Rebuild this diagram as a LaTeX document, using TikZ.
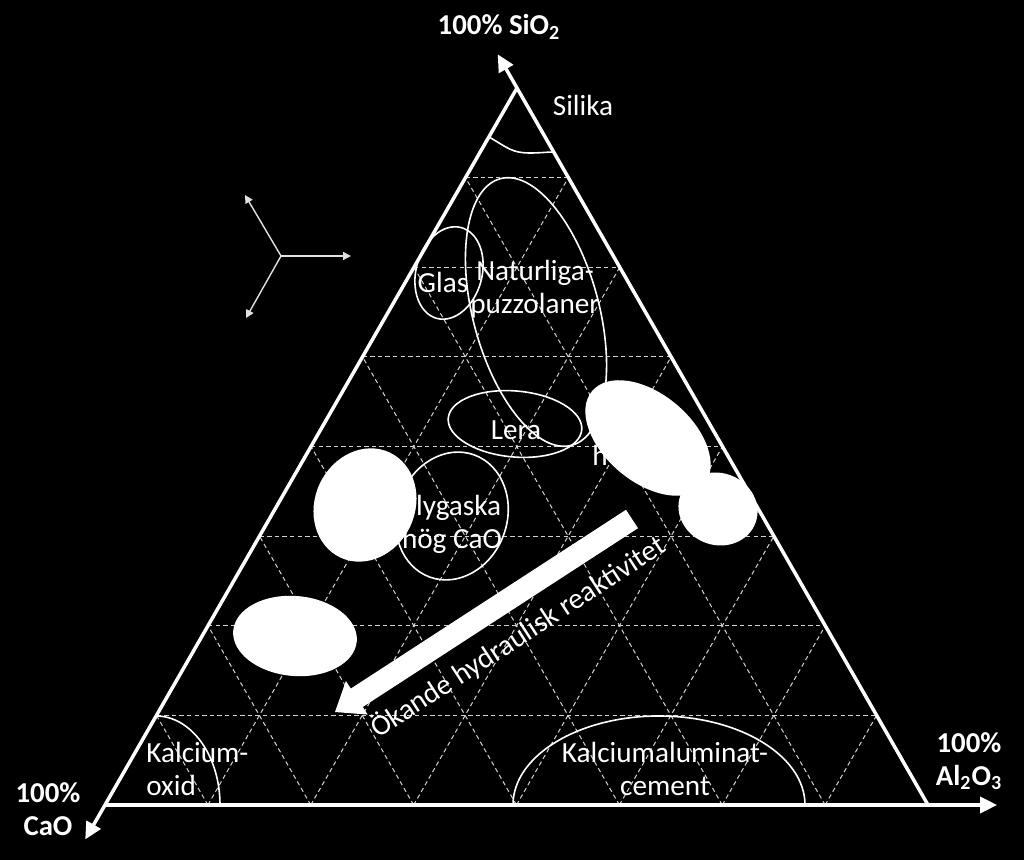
\documentclass[tikz,border=0pt]{standalone}
\usepackage{fontspec}
\setmainfont{Carlito}
\usetikzlibrary{arrows.meta,calc}
\definecolor{gridc}{RGB}{210,210,210}
\definecolor{starc}{RGB}{225,225,225}
\begin{document}
\begin{tikzpicture}[x=0.5pt,y=-0.5pt,
  side/.style={draw=white,line width=1.75pt},
  bigtip/.style={-{Triangle[length=8.5pt,width=8pt]}},
  gridline/.style={draw=gridc,line width=0.5pt,dash pattern=on 2.2pt off 1.6pt},
  region/.style={draw=white,line width=0.8pt},
  blob/.style={fill=white},
  lbl/.style={text=white,font=\fontsize{14.6}{16.6}\selectfont,align=center,inner sep=0pt},
  axlbl/.style={text=white,font=\fontsize{14.4}{16.6}\selectfont\bfseries,align=center,inner sep=0pt},
  startip/.style={draw=starc,line width=0.7pt,-{Triangle[length=4pt,width=4pt]}}
]
\fill[black] (0,0) rectangle (1024,860);
\useasboundingbox (0,0) rectangle (1024,860);

\coordinate (A) at (517,88);
\coordinate (B) at (105,805);
\coordinate (C) at (928,805);

% grid
\foreach \k in {1,...,7}{
  \pgfmathsetmacro\fr{\k/8}
  \draw[gridline] ($(A)!\fr!(B)$) -- ($(A)!\fr!(C)$);
  \draw[gridline] ($(B)!\fr!(C)$) -- ($(A)!\fr!(C)$);
  \draw[gridline] ($(B)!\fr!(C)$) -- ($(A)!{1-\fr}!(B)$);
}

% regions (outlined)
\draw[region] (489,137) .. controls (508,148) and (512,153) .. (530,153) .. controls (540,153) and (548,152) .. (554,152);
\draw[region, rotate around={15:(536,312)}] (536,312) ellipse [x radius=63, y radius=138];
\draw[region, rotate around={-15:(449,273)}] (449,273) ellipse [x radius=33, y radius=47];
\draw[region, rotate around={-5:(515,424)}] (515,424) ellipse [x radius=67, y radius=33];
\draw[region, rotate around={-20:(452,516)}] (452,516) ellipse [x radius=55, y radius=65];
\draw[region] (156,716) arc[start angle=-90, end angle=0, x radius=64, y radius=89];
\draw[region] (513,805) arc[start angle=180, end angle=360, x radius=146, y radius=89];

% labels
\node[lbl] (silika) at (583,105) {Silika};
\node[lbl] (glas) at (443,282) {Glas};
\node[lbl] (natur) at (535,289) {Naturliga-\\puzzolaner};
\node[lbl] (lera) at (516,430) {Lera};
\node[lbl] (flyg) at (452,524) {Flygaska\\hög CaO};
\node[lbl, align=left, anchor=west] (kox) at (146,769) {Kalcium-\\oxid};
\node[lbl] (kac) at (665,769) {Kalciumaluminat-\\cement};
\node[lbl] (frag) at (600,455) {h};

% white filled blobs
\fill[blob, rotate around={-25:(365,505)}] (365,505) ellipse [x radius=50, y radius=58];
\fill[blob, rotate around={-5:(295,636)}] (295,636) ellipse [x radius=62, y radius=40];
\fill[blob, rotate around={-40:(648,438)}] (648,438) ellipse [x radius=73, y radius=44];
\fill[blob, rotate around={-20:(718,509)}] (718,509) ellipse [x radius=40, y radius=36];

% big arrow
\fill[white] (335,712) -- (367.7,714.6) -- (362.8,707.0) -- (638.0,528.2) -- (626.0,509.8) -- (350.8,688.6) -- (345.9,681.0) -- cycle;
\node[lbl, rotate=33] (reakt) at (518,637) {Ökande hydraulisk reaktivitet};

% triangle sides with axis arrows
\draw[side, bigtip] (C) -- ($(C)!1.047!(A)$);
\draw[side, bigtip] (A) -- ($(A)!1.048!(B)$);
\draw[side, bigtip] (B) -- ($(B)!1.084!(C)$);

% direction star
\coordinate (S) at (281,256);
\coordinate (S1) at (245,195);
\coordinate (S2) at (351,256);
\coordinate (S3) at (246,318);
\draw[startip] (S) -- (S1);
\draw[startip] (S) -- (S2);
\draw[startip] (S) -- (S3);

% axis labels
\node[axlbl] (sio) at (499,27) {100\% SiO\textsubscript{2}};
\node[axlbl] (cao) at (48,809) {100\%\\CaO};
\node[axlbl] (alo) at (969,761) {100\%\\Al\textsubscript{2}O\textsubscript{3}};
\end{tikzpicture}
\end{document}
